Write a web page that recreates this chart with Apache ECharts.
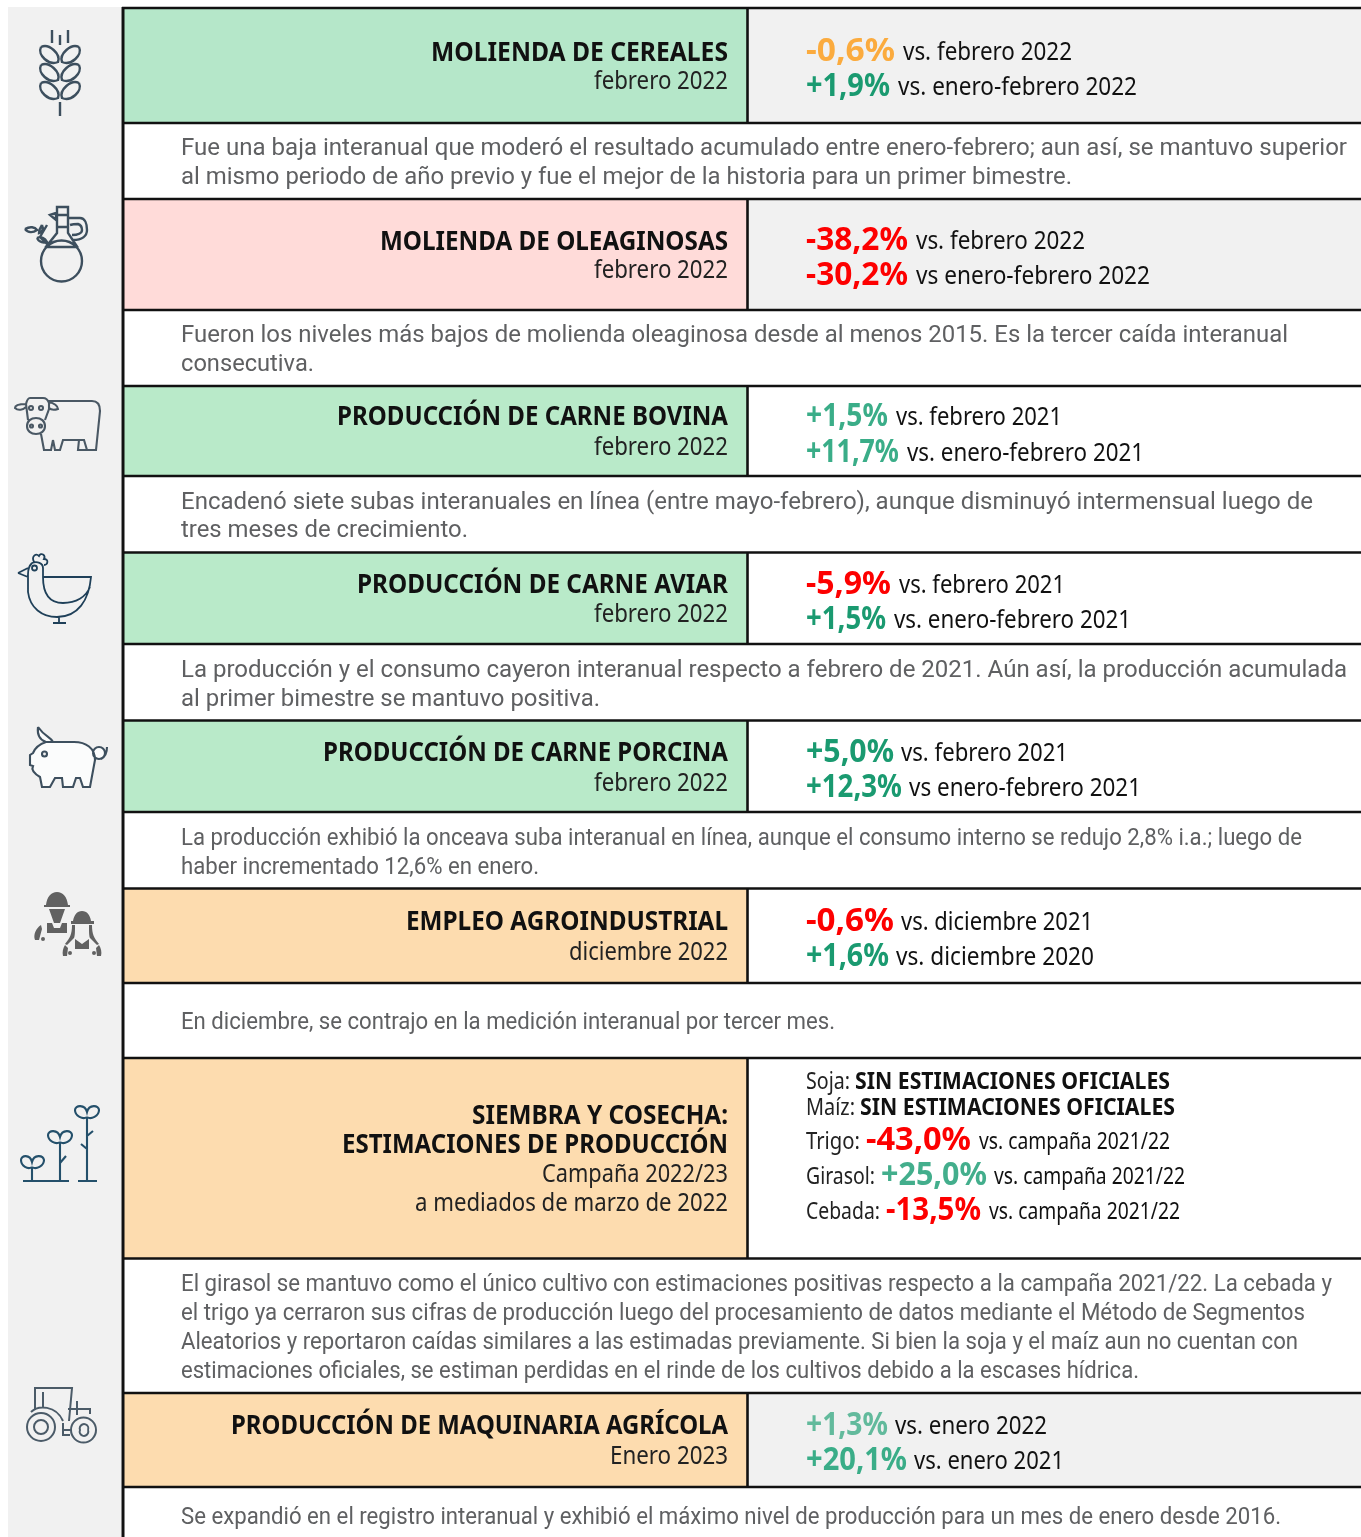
<!DOCTYPE html>
<html>
<head>
<meta charset="utf-8">
<title>Indicadores agroindustriales</title>
<script src="https://cdn.jsdelivr.net/npm/echarts@6/dist/echarts.min.js"></script>
<style>
html, body { margin: 0; padding: 0; background: #fff; }
#main { width: 1361px; height: 1537px; }
</style>
</head>
<body>
<div id="main"></div>
<script>
// data
var rowTitles = [
    ['MOLIENDA DE CEREALES'],
    ['MOLIENDA DE OLEAGINOSAS'],
    ['PRODUCCIÓN DE CARNE BOVINA'],
    ['PRODUCCIÓN DE CARNE AVIAR'],
    ['PRODUCCIÓN DE CARNE PORCINA'],
    ['EMPLEO AGROINDUSTRIAL'],
    ['SIEMBRA Y COSECHA:', 'ESTIMACIONES DE PRODUCCIÓN'],
    ['PRODUCCIÓN DE MAQUINARIA AGRÍCOLA']
];
var rowPeriods = [
    ['febrero 2022'],
    ['febrero 2022'],
    ['febrero 2022'],
    ['febrero 2022'],
    ['febrero 2022'],
    ['diciembre 2022'],
    ['Campaña 2022/23', 'a mediados de marzo de 2022'],
    ['Enero 2023']
];
var firstValues = [-0.6, -38.2, 1.5, -5.9, 5.0, -0.6, null, 1.3];
var firstLabels = ['vs. febrero 2022', 'vs. febrero 2022', 'vs. febrero 2021', 'vs. febrero 2021',
    'vs. febrero 2021', 'vs. diciembre 2021', null, 'vs. enero 2022'];
var secondValues = [1.9, -30.2, 11.7, 1.5, 12.3, 1.6, null, 20.1];
var secondLabels = ['vs. enero-febrero 2022', 'vs enero-febrero 2022', 'vs. enero-febrero 2021',
    'vs. enero-febrero 2021', 'vs enero-febrero 2021', 'vs. diciembre 2020', null, 'vs. enero 2021'];
var cropNames = ['Soja:', 'Maíz:', 'Trigo:', 'Girasol:', 'Cebada:'];
var cropValues = [null, null, -43.0, 25.0, -13.5];
var cropNoEstimate = 'SIN ESTIMACIONES OFICIALES';
var cropLabel = 'vs. campaña 2021/22';
var rowNotes = [
    ['Fue una baja interanual que moderó el resultado acumulado entre enero-febrero; aun así, se mantuvo superior',
     'al mismo periodo de año previo y fue el mejor de la historia para un primer bimestre.'],
    ['Fueron los niveles más bajos de molienda oleaginosa desde al menos 2015. Es la tercer caída interanual',
     'consecutiva.'],
    ['Encadenó siete subas interanuales en línea (entre mayo-febrero), aunque disminuyó intermensual luego de',
     'tres meses de crecimiento.'],
    ['La producción y el consumo cayeron interanual respecto a febrero de 2021. Aún así, la producción acumulada',
     'al primer bimestre se mantuvo positiva.'],
    ['La producción exhibió la onceava suba interanual en línea, aunque el consumo interno se redujo 2,8% i.a.; luego de',
     'haber incrementado 12,6% en enero.'],
    ['En diciembre, se contrajo en la medición interanual por tercer mes.'],
    ['El girasol se mantuvo como el único cultivo con estimaciones positivas respecto a la campaña 2021/22. La cebada y',
     'el trigo ya cerraron sus cifras de producción luego del procesamiento de datos mediante el Método de Segmentos',
     'Aleatorios y reportaron caídas similares a las estimadas previamente. Si bien la soja y el maíz aun no cuentan con',
     'estimaciones oficiales, se estiman perdidas en el rinde de los cultivos debido a la escases hídrica.'],
    ['Se expandió en el registro interanual y exhibió el máximo nivel de producción para un mes de enero desde 2016.']
];

// layout of the table, in page pixels
var rowTop = [8, 199, 386, 552.5, 720.5, 888.5, 1058, 1393];
var rowMid = [123, 310, 476, 644, 812, 983, 1258.5, 1487];
var titleY = [[54], [243], [418], [586], [754], [923], [1117, 1146], [1427]];
var titleX = [[431], [380], [337], [357], [323], [406], [472, 342], [231]];
var periodY = [[82], [271], [448], [615], [784], [953], [1175, 1204], [1457]];
var periodX = [[594], [594], [594], [594], [594], [569], [542, 415], [610]];
var noteY = [[147, 176], [334, 363], [501, 529], [669, 698], [837, 866], [1021], [1283, 1312, 1341, 1370], [1516]];
var noteEnd = [[1347, 1072], [1288, 314], [1313, 468], [1347, 600], [1302, 539], [835], [1332, 1305, 1298, 1139], [1281]];
var firstY = [53, 242, 418, 586, 754, 923, 0, 1427];
var secondY = [88, 277, 454, 621, 789, 958, 0, 1462];
var firstValueEnd = [895, 908, 888, 891, 894, 894, 0, 888];
var firstLabelX = [903, 916, 896, 899, 901, 901, 0, 895];
var firstLabelEnd = [1072, 1085, 1062, 1065, 1068, 1093, 0, 1047];
var secondValueEnd = [890, 908, 899, 886, 902, 889, 0, 907];
var secondLabelX = [898, 916, 907, 894, 909, 896, 0, 914];
var secondLabelEnd = [1137, 1150, 1144, 1131, 1141, 1094, 0, 1064];
var cropY = [1082, 1108, 1142, 1177, 1212];
var cropNameEnd = [850, 855, 860, 875, 880];
var cropValueX = [855, 860, 866, 881, 886];
var cropValueEnd = [1170, 1175, 971, 987, 981];
var cropLabelX = [0, 0, 979, 994, 989];
var cropLabelEnd = [0, 0, 1170, 1185, 1180];

// styles
var rowFill = ['#b5e7c9', '#ffdbd9', '#b9eac9', '#b9eac9', '#b9eac9', '#fddcaf', '#fddcaf', '#fddcaf'];
var panelFill = ['#f1f1f1', '#f1f1f1', '#fff', '#fff', '#fff', '#fff', '#fff', '#f1f1f1'];
var firstColor = ['#fbab3e', '#fd0000', '#3aad88', '#fd0000', '#1a9a70', '#fd0000', null, '#62ba9c'];
var secondColor = ['#1a9a70', '#fd0000', '#3aad88', '#1a9a70', '#1a9a70', '#1a9a70', null, '#3aad88'];
var cropColor = [null, null, '#fd0000', '#43ae8c', '#fd0000'];
var ink = '#111';
var noteInk = '#5f6062';

// icons, one per row
var iconLine = ['#3d4f5e', '#3d4f5e', '#4a5864', '#1f4059', '#3d4f5e', null, '#24506b', '#4b5b68'];
var iconWidth = [2.4, 2.4, 2.1, 1.8, 2.1, 0, 2.1, 2];
var iconPaths = [
    'M52 30V43M60 35V45M68 30V43M60 102V116' +
    'M41 47C49 43 61 54 58 62C49 66 37 55 41 47M41 65C49 61 61 72 58 80C49 84 37 73 41 65M41 83C49 79 61 90 58 98C49 102 37 91 41 83' +
    'M79 47C71 43 59 54 62 62C71 66 83 55 79 47M79 65C71 61 59 72 62 80C71 84 83 73 79 65M79 83C71 79 59 90 62 98C71 102 83 91 79 83',
    'M57 207H68V227H57ZM57 215H68M57 227V233L45 248M68 227V233L78 248M47 247H78' +
    'M41 261A20.5 20.5 0 1 0 82 261A20.5 20.5 0 1 0 41 261M50 215L56 213V220Z' +
    'M68 218H80C85 218 87 224 87 230C87 236 82 240 73 240M70 225C73 224 76 224 78 224C81 225 82 228 82 230C82 233 78 235 72 235' +
    'M25 229C30 226 35 227 37 230C33 233 28 233 25 229M42 225C40 228 39 230 39 233C42 232 44 229 42 225M37 238C41 236 45 238 47 242C43 243 39 242 37 238M47 225L40 237L48 245',
    'M48 401H92C98 401 100 405 100 411L96 450H87L84 440H63L60 450H55L53 440M53 440L51 450H44L41 434' +
    'M79 440L78 450H86M30 398H43C46 398 48 400 49 403M30 398C28 398 27 400 26 404M26 404L28 420M49 403V409L45 420' +
    'M26 404C20 404 15 405 15 408C18 411 23 410 26 407M49 402C54 403 58 406 58 409C55 410 51 410 49 408' +
    'M27 426C27 421 31 418 36 418C41 418 45 421 45 426C45 431 41 434 36 434C31 434 27 431 27 426' +
    'M33 408A2 2 0 1 0 29 408A2 2 0 1 0 33 408M43 408A2 2 0 1 0 39 408A2 2 0 1 0 43 408' +
    'M33 426A1.5 1.5 0 1 0 30 426A1.5 1.5 0 1 0 33 426M42 426A1.5 1.5 0 1 0 39 426A1.5 1.5 0 1 0 42 426',
    'M18 573L28 568M18 573L28 577M32 563C29 566 28 570 28 574V592C30 608 42 617 57 617C78 617 89 600 91 577H43V568C43 563 37 561 32 563' +
    'M43 577C43 594 50 603 63 603C76 603 86 597 90 587M59 617V623M53 623H66' +
    'M34 562C31 556 36 553 39 556C41 552 46 555 44 559C49 559 48 565 44 565' +
    'M37 568A2.5 2.5 0 1 0 32 568A2.5 2.5 0 1 0 37 568',
    'M38 727C37 735 40 740 46 742H53C51 737 45 737 38 727M46 742H74C86 742 95 748 95 760L90 787H83L80 778H76L73 787H63L62 778H55L50 787H42L40 777C35 774 31 770 33 766L30 765V755L33 753C35 748 40 744 46 742' +
    'M105 753A6 6 0 1 0 93 753A6 6 0 1 0 105 753M101 759C105 757 107 752 107 747' +
    'M47 754A2.5 2.5 0 1 0 42 754A2.5 2.5 0 1 0 47 754',
    null,
    'M23 1181H69M78 1181H97M32 1167V1181M60 1142V1181M87 1117V1181M60 1163L66 1156M87 1136L93 1131M87 1149L81 1144' +
    'M32 1167C28 1170 21 1166 21 1160C21 1155 30 1154 32 1162C34 1154 43 1155 44 1160C44 1166 36 1170 32 1167' +
    'M60 1142C56 1145 48 1141 48 1135C48 1130 58 1129 60 1137C62 1129 72 1130 72 1135C72 1141 64 1145 60 1142' +
    'M87 1117C83 1120 75 1116 75 1110C75 1105 85 1104 87 1112C89 1104 99 1105 99 1110C99 1116 91 1120 87 1117',
    'M55 1427A14 14 0 1 0 27 1427A14 14 0 1 0 55 1427M48 1427A7 7 0 1 0 34 1427A7 7 0 1 0 48 1427' +
    'M96 1430A12.5 12.5 0 1 0 71 1430A12.5 12.5 0 1 0 96 1430M88 1430A4.3 4.3 0 1 0 80 1430A4.3 4.3 0 1 0 88 1430' +
    'M31 1412C38 1405 56 1405 63 1421M35 1409V1388H72L69 1421M43 1392V1407M68 1409H90V1414M77 1401V1415M63 1423V1435H70M63 1430H72'
];
// filled pictogram of the two workers
var workerShapes =
    'M46 905C47 897 51 892 57 892C63 892 67 897 68 905H70V907H44V905Z' +
    'M49 909H65L60 923H54ZM47 923H52L54 928H60L62 923H67V933H47Z' +
    'M41 925L42 929L39 940H35C33 935 36 928 41 925ZM45 939A2 2 0 1 0 41 939A2 2 0 1 0 45 939' +
    'M73 921C74 915 77 911 82 911C87 911 90 915 91 921H94V924H71V921Z' +
    'M72 925H75C75 932 75 936 74 938L67 945L65 944C70 938 72 934 72 925M92 925H89C89 932 89 936 90 938L97 945L99 944C94 938 92 934 92 925' +
    'M75 939L82 944L89 939V949H75Z' +
    'M65 945L68 948L67 956H63C62 952 63 948 65 945ZM99 945L96 948L97 956H101C102 952 101 948 99 945' +
    'M72 953A2 2 0 1 0 68 953A2 2 0 1 0 72 953M96 953A2 2 0 1 0 92 953A2 2 0 1 0 96 953';

function formatValue(v) {
    return (v < 0 ? '-' : '+') + Math.abs(v).toFixed(1).replace('.', ',') + '%';
}

// the source type is stretched to fit, so every line is scaled to the width it has in the picture
var measureCtx = document.createElement('canvas').getContext('2d');
function fitText(text, x0, x1, y, font, fill) {
    measureCtx.font = font;
    return {
        type: 'text',
        x: x0,
        y: y,
        scaleX: (x1 - x0) / measureCtx.measureText(text).width,
        style: { text: text, x: 0, y: 0, font: font, fill: fill, align: 'left', verticalAlign: 'middle' }
    };
}

var titleFont = 'bold 26px "Noto Sans"';
var periodFont = '26px "Noto Sans"';
var noteFont = '24px Roboto';
var labelFont = '26px "Noto Sans"';
var valueFont = 'bold 32px "Noto Sans"';
var cropFont = '24px "Noto Sans"';
var cropBoldFont = 'bold 24px "Noto Sans"';

function renderRow(params) {
    var i = params.dataIndex;
    var children = [];
    children.push({ type: 'rect', shape: { x: 122, y: rowTop[i], width: 625, height: rowMid[i] - rowTop[i] }, style: { fill: rowFill[i] } });
    children.push({ type: 'rect', shape: { x: 747, y: rowTop[i], width: 614, height: rowMid[i] - rowTop[i] }, style: { fill: panelFill[i] } });

    rowTitles[i].forEach(function (t, k) {
        children.push(fitText(t, titleX[i][k], 728, titleY[i][k], titleFont, ink));
    });
    rowPeriods[i].forEach(function (t, k) {
        children.push(fitText(t, periodX[i][k], 728, periodY[i][k], periodFont, '#222'));
    });
    if (firstValues[i] != null) {
        children.push(fitText(formatValue(firstValues[i]), 806, firstValueEnd[i], firstY[i] - 1, valueFont, firstColor[i]));
        children.push(fitText(firstLabels[i], firstLabelX[i], firstLabelEnd[i], firstY[i], labelFont, ink));
        children.push(fitText(formatValue(secondValues[i]), 806, secondValueEnd[i], secondY[i] - 1, valueFont, secondColor[i]));
        children.push(fitText(secondLabels[i], secondLabelX[i], secondLabelEnd[i], secondY[i], labelFont, ink));
    } else {
        cropNames.forEach(function (name, k) {
            children.push(fitText(name, 806, cropNameEnd[k], cropY[k], cropFont, '#222'));
            if (cropValues[k] == null) {
                children.push(fitText(cropNoEstimate, cropValueX[k], cropValueEnd[k], cropY[k], cropBoldFont, ink));
            } else {
                children.push(fitText(formatValue(cropValues[k]), cropValueX[k], cropValueEnd[k], cropY[k] - 1, valueFont, cropColor[k]));
                children.push(fitText(cropLabel, cropLabelX[k], cropLabelEnd[k], cropY[k], cropFont, ink));
            }
        });
    }
    rowNotes[i].forEach(function (t, k) {
        children.push(fitText(t, 181, noteEnd[i][k], noteY[i][k] + 2, noteFont, noteInk));
    });

    // rules
    [rowTop[i], rowMid[i]].forEach(function (y) {
        children.push({ type: 'line', shape: { x1: 122, y1: y, x2: 1361, y2: y }, style: { stroke: ink, lineWidth: 2.6 } });
    });
    children.push({ type: 'line', shape: { x1: 747.5, y1: rowTop[i], x2: 747.5, y2: rowMid[i] }, style: { stroke: ink, lineWidth: 2.6 } });

    // icon
    if (iconPaths[i]) {
        children.push({
            type: 'path',
            shape: { pathData: iconPaths[i] },
            style: { fill: i === 4 ? '#fbfcfc' : 'none', stroke: iconLine[i], lineWidth: iconWidth[i] }
        });
    } else {
        children.push({ type: 'path', shape: { pathData: workerShapes }, style: { fill: '#616161', stroke: 'none' } });
    }
    return { type: 'group', children: children };
}

var chart = echarts.init(document.getElementById('main'), null, { renderer: 'canvas' });
var option = {
    animation: false,
    backgroundColor: '#fff',
    graphic: [
        { type: 'rect', z: 0, shape: { x: 8, y: 7, width: 113, height: 1530 }, style: { fill: '#f1f1f1' } }
    ],
    series: [
        {
            name: 'filas',
            type: 'custom',
            coordinateSystem: 'none',
            silent: true,
            z: 2,
            data: rowTitles.map(function (t, i) { return i; }),
            renderItem: renderRow
        },
        {
            name: 'marco',
            type: 'custom',
            coordinateSystem: 'none',
            silent: true,
            z: 3,
            data: [0],
            renderItem: function () {
                return { type: 'line', shape: { x1: 123, y1: 7, x2: 123, y2: 1537 }, style: { stroke: ink, lineWidth: 3 } };
            }
        }
    ]
};
chart.setOption(option);
</script>
</body>
</html>
